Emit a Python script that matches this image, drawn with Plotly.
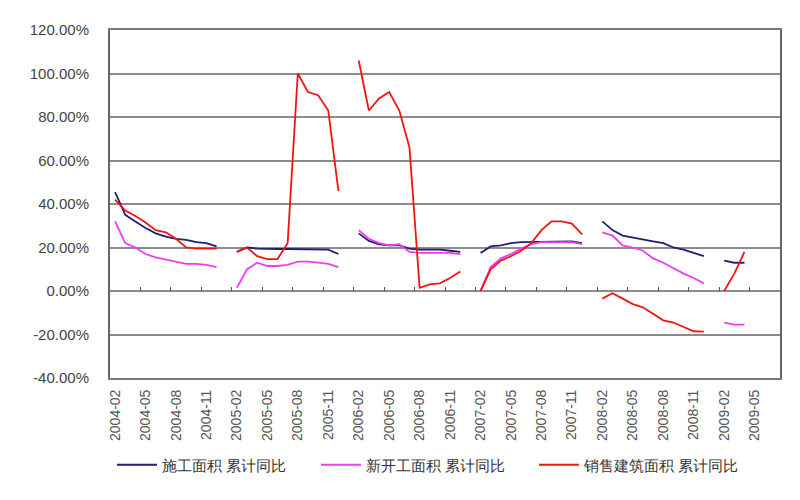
import plotly.graph_objects as go

# Monthly categories 2004-02 .. 2009-07 (January has no data -> gaps)
months = []
y, m = 2004, 2
while (y, m) <= (2009, 7):
    months.append(f"{y}-{m:02d}")
    m += 1
    if m > 12:
        m = 1
        y += 1

N = None
# 施工面积 累计同比 (%)
construction = [45.5, 35, 32, 29, 26.5, 25, 24, 23.5, 22.5, 22, 20.5, N,
                18, 20, 19.5, 19.3, 19.3, 19.3, 19.3, 19.3, 19.3, 19, 17, N,
                26.5, 23, 21.5, 21, 21, 19.5, 19, 19, 19, 18.5, 18, N,
                17.5, 20.5, 21, 22, 22.5, 22.5, 22.8, 22.8, 22.8, 22.8, 22, N,
                32, 28, 25.5, 24.5, 23.8, 22.8, 22, 20, 19, 17.5, 16, N,
                14, 13, 13, N, N, N]
# 新开工面积 累计同比 (%)
new_starts = [32, 22, 20, 17, 15.5, 14.5, 13.3, 12.5, 12.5, 12, 11, N,
              1.5, 10, 13, 11.5, 11.5, 12, 13.5, 13.5, 13, 12.5, 11, N,
              28, 24, 22, 21, 21.5, 18, 17.5, 17.5, 17.5, 17.5, 17, N,
              0, 11, 15, 17, 19.5, 21.5, 22.5, 22.5, 22.5, 22.5, 21.5, N,
              27, 25.5, 21, 20, 18.5, 15, 13, 10.5, 8, 6, 3.5, N,
              -14.5, -15.5, -15.5, N, N, N]
# 销售建筑面积 累计同比 (%)
sales = [42, 37, 34.5, 31.5, 28, 27, 24, 20, 19.5, 19.5, 19.5, N,
         18, 20, 16, 14.7, 14.7, 22, 100, 91.5, 90, 83, 46, N,
         106, 83, 88.5, 91.5, 83, 66, 1.5, 3, 3.5, 6, 9, N,
         0, 10, 14, 16, 18.5, 22, 28, 32, 32, 31, 26, N,
         -3.5, -1, -3.5, -6, -7.5, -10.5, -13.5, -14.5, -16.5, -18.5, -18.7, N,
         0, 8, 18, N, N, N]

series_names = ["施工面积 累计同比", "新开工面积 累计同比", "销售建筑面积 累计同比"]
series_colors = ["#1f1f75", "#f03cf0", "#f01414"]
series_values = [construction, new_starts, sales]
legend_ids = ["legend", "legend2", "legend3"]
legend_x = [0.13, 0.385, 0.6575]

tick_labels = months[::3]
y_ticks = [-40, -20, 0, 20, 40, 60, 80, 100, 120]
y_tick_text = [f"{v:.2f}%" for v in y_ticks]
boundary_ticks = [i - 0.5 for i in range(3, len(months), 3)]
x_span = [-0.5, len(months) - 0.5]

fig = go.Figure()
for name, color, vals, lid in zip(series_names, series_colors, series_values, legend_ids):
    fig.add_trace(go.Scatter(x=months, y=vals, name=name, mode="lines",
                             line=dict(color=color, width=1.8),
                             connectgaps=False, legend=lid))
# invisible helper trace so the tick-mark axis on the zero line is drawn
fig.add_trace(go.Scatter(x=x_span, y=[None, None], xaxis="x2", yaxis="y",
                         showlegend=False, hoverinfo="skip", mode="lines"))

font_family = "Liberation Sans, Arial, sans-serif"


def legend_box(xpos):
    return dict(orientation="h", xref="container", yref="container",
                x=xpos, xanchor="left", y=0.086, yanchor="middle",
                font=dict(size=15, color="#333"), itemwidth=40,
                bgcolor="rgba(0,0,0,0)")


fig.update_layout(
    width=800, height=500,
    margin=dict(l=102, r=28, t=22, b=130, autoexpand=False),
    paper_bgcolor="white", plot_bgcolor="white",
    font=dict(family=font_family, color="#444", size=12),
    showlegend=True,
    legend=legend_box(legend_x[0]),
    legend2=legend_box(legend_x[1]),
    legend3=legend_box(legend_x[2]),
    xaxis=dict(type="category", categoryorder="array", categoryarray=months,
               range=x_span, automargin=False,
               tickmode="array", tickvals=tick_labels, ticktext=tick_labels,
               tickangle=-90, tickfont=dict(size=14, color="#555"),
               ticklabelstandoff=4,
               ticks="", showgrid=False, zeroline=False,
               showline=True, linecolor="#7a7a7a", linewidth=2, mirror=True),
    xaxis2=dict(overlaying="x", anchor="free", position=0.25, type="linear",
                range=x_span, tickmode="array", automargin=False,
                tickvals=boundary_ticks, ticks="inside", ticklen=4,
                tickcolor="#555", tickwidth=1, showticklabels=False,
                showgrid=False, zeroline=False, showline=False),
    yaxis=dict(range=[-40, 120], tickmode="array", tickvals=y_ticks,
               ticktext=y_tick_text, automargin=False,
               tickfont=dict(size=15, color="#444"),
               ticklabelstandoff=16,
               showgrid=True, gridcolor="#8c8c8c", gridwidth=2,
               zeroline=True, zerolinecolor="#8c8c8c", zerolinewidth=2,
               showline=True, linecolor="#666", linewidth=2, mirror=True,
               ticks=""),
)
fig.write_html("out.html")
